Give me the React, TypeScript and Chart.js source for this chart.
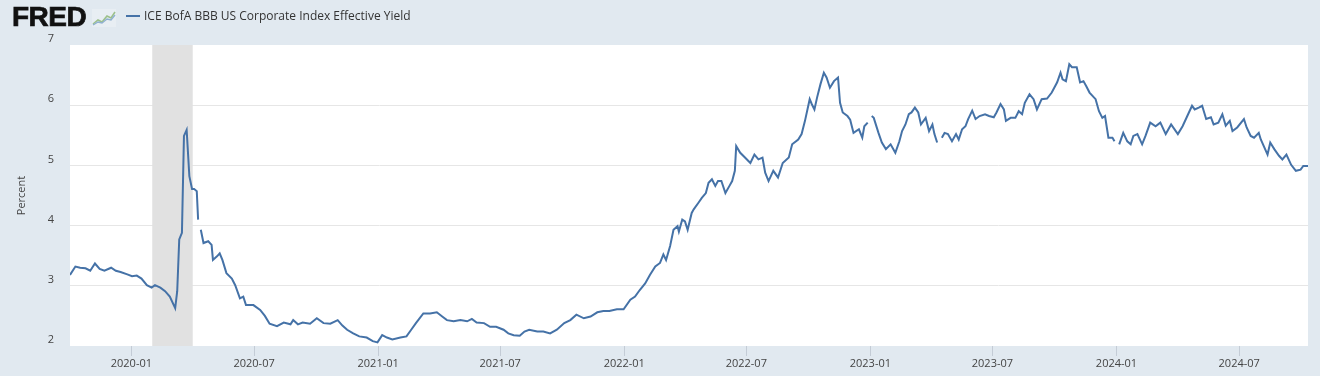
import React, { useEffect, useRef } from "react";
import { Chart, registerables } from "chart.js";

Chart.register(...registerables);

const seriesLabel = "ICE BofA BBB US Corporate Index Effective Yield";
const yAxisTitle = "Percent";

const dates: string[] = [
  "2019-10-02","2019-10-10","2019-10-17","2019-10-25","2019-11-01","2019-11-08","2019-11-15","2019-11-22","2019-12-02","2019-12-09","2019-12-16","2019-12-26",
  "2020-01-02","2020-01-09","2020-01-16","2020-01-24","2020-01-31","2020-02-05","2020-02-13","2020-02-20","2020-02-27","2020-03-06","2020-03-09","2020-03-12",
  "2020-03-16","2020-03-19","2020-03-23","2020-03-27","2020-03-31","2020-04-03","2020-04-07","2020-04-09","2020-04-10","2020-04-13","2020-04-17","2020-04-24",
  "2020-04-29","2020-05-01","2020-05-07","2020-05-11","2020-05-15","2020-05-21","2020-05-29","2020-06-03","2020-06-10","2020-06-15","2020-06-19","2020-06-30",
  "2020-07-10","2020-07-17","2020-07-24","2020-08-04","2020-08-14","2020-08-24","2020-08-28","2020-09-04","2020-09-11","2020-09-22","2020-10-02","2020-10-12",
  "2020-10-22","2020-11-02","2020-11-09","2020-11-16","2020-11-25","2020-12-04","2020-12-15","2020-12-24","2020-12-31",
  "2021-01-07","2021-01-14","2021-01-22","2021-02-03","2021-02-12","2021-02-19","2021-02-26","2021-03-09","2021-03-19","2021-03-29","2021-04-06","2021-04-13",
  "2021-04-23","2021-05-03","2021-05-13","2021-05-20","2021-05-27","2021-06-07","2021-06-16","2021-06-25","2021-07-06","2021-07-13","2021-07-21","2021-07-30",
  "2021-08-06","2021-08-13","2021-08-25","2021-09-03","2021-09-13","2021-09-23","2021-10-04","2021-10-13","2021-10-22","2021-11-02","2021-11-12","2021-11-22",
  "2021-12-01","2021-12-10","2021-12-21","2021-12-31",
  "2022-01-10","2022-01-17","2022-01-24","2022-02-01","2022-02-08","2022-02-16","2022-02-23","2022-02-28","2022-03-04","2022-03-10","2022-03-15","2022-03-21",
  "2022-03-23","2022-03-28","2022-04-01","2022-04-05","2022-04-11","2022-04-14","2022-04-21","2022-04-26","2022-05-02","2022-05-06","2022-05-11","2022-05-16",
  "2022-05-20","2022-05-25","2022-05-31","2022-06-06","2022-06-10","2022-06-14","2022-06-16","2022-06-22","2022-06-29","2022-07-07","2022-07-13","2022-07-19",
  "2022-07-25","2022-07-29","2022-08-03","2022-08-10","2022-08-17","2022-08-24","2022-09-02","2022-09-07","2022-09-16","2022-09-21","2022-09-26","2022-10-03",
  "2022-10-06","2022-10-10","2022-10-14","2022-10-19","2022-10-24","2022-10-28","2022-11-02","2022-11-08","2022-11-14","2022-11-17","2022-11-21","2022-11-28",
  "2022-12-02","2022-12-07","2022-12-15","2022-12-20","2022-12-23","2022-12-28","2022-12-30",
  "2023-01-03","2023-01-06","2023-01-13","2023-01-18","2023-01-24","2023-01-31","2023-02-07","2023-02-13","2023-02-17","2023-02-22","2023-02-27","2023-03-03",
  "2023-03-08","2023-03-13","2023-03-17","2023-03-24","2023-03-29","2023-04-03","2023-04-06","2023-04-10","2023-04-12","2023-04-17","2023-04-21","2023-04-26",
  "2023-05-02","2023-05-08","2023-05-12","2023-05-17","2023-05-22","2023-05-26","2023-06-01","2023-06-06","2023-06-12","2023-06-20","2023-06-26","2023-07-03",
  "2023-07-07","2023-07-13","2023-07-18","2023-07-21","2023-07-28","2023-08-04","2023-08-09","2023-08-14","2023-08-18","2023-08-25","2023-08-31","2023-09-05",
  "2023-09-12","2023-09-20","2023-09-27","2023-10-05","2023-10-10","2023-10-13","2023-10-18","2023-10-23","2023-10-27","2023-11-03","2023-11-08","2023-11-13",
  "2023-11-17","2023-11-22","2023-12-01","2023-12-06","2023-12-11","2023-12-15","2023-12-20","2023-12-26","2023-12-29",
  "2024-01-02","2024-01-05","2024-01-11","2024-01-17","2024-01-22","2024-01-26","2024-02-01","2024-02-08","2024-02-13","2024-02-20","2024-02-28","2024-03-06",
  "2024-03-14","2024-03-22","2024-04-01","2024-04-08","2024-04-15","2024-04-22","2024-04-26","2024-05-02","2024-05-07","2024-05-13","2024-05-20","2024-05-24",
  "2024-05-31","2024-06-06","2024-06-11","2024-06-17","2024-06-21","2024-06-28","2024-07-08","2024-07-12","2024-07-18","2024-07-23","2024-07-30","2024-08-02",
  "2024-08-12","2024-08-16","2024-08-22","2024-08-29","2024-09-03","2024-09-09","2024-09-16","2024-09-23","2024-09-30","2024-10-04","2024-10-11",
];

const yields: (number | null)[] = [
  3.18,3.32,3.30,3.29,3.25,3.37,3.28,3.25,3.30,3.25,3.23,3.19,
  3.16,3.17,3.12,3.01,2.97,3.01,2.97,2.91,2.82,2.63,2.91,3.77,
  3.88,5.49,5.59,4.82,4.61,4.61,4.57,4.10,null,3.93,3.71,3.74,
  3.68,3.43,3.49,3.54,3.43,3.21,3.12,3.01,2.79,2.82,2.68,2.68,
  2.60,2.50,2.37,2.33,2.39,2.36,2.43,2.36,2.39,2.37,2.46,2.38,
  2.37,2.43,2.34,2.27,2.21,2.16,2.14,2.08,2.06,
  2.18,2.14,2.11,2.14,2.16,2.27,2.38,2.54,2.54,2.56,2.49,2.43,
  2.41,2.43,2.41,2.45,2.39,2.38,2.32,2.32,2.27,2.21,2.18,2.17,
  2.24,2.27,2.24,2.24,2.21,2.27,2.38,2.43,2.52,2.46,2.49,2.56,
  2.58,2.58,2.61,2.61,
  2.77,2.82,2.93,3.04,3.18,3.32,3.38,3.52,3.43,3.66,3.93,3.99,
  3.90,4.10,4.07,3.93,4.21,4.27,4.38,4.46,4.54,4.71,4.77,4.66,
  4.74,4.74,4.54,4.66,4.74,4.91,5.32,5.21,5.13,5.04,5.18,5.10,
  5.13,4.88,4.74,4.91,4.80,5.04,5.13,5.35,5.43,5.52,5.74,6.10,
  6.02,5.93,6.13,6.35,6.54,6.46,6.29,6.40,6.46,6.04,5.88,5.82,
  5.76,5.54,5.60,5.46,5.65,5.71,null,
  5.82,5.79,5.54,5.38,5.27,5.35,5.21,5.40,5.57,5.68,5.85,5.88,
  5.96,5.88,5.68,5.79,5.57,5.68,5.52,5.38,null,5.46,5.54,5.52,
  5.40,5.52,5.43,5.60,5.65,5.77,5.91,5.77,5.82,5.85,5.82,5.80,
  5.88,6.02,5.93,5.74,5.79,5.79,5.90,5.85,6.04,6.18,6.10,5.93,
  6.10,6.11,6.21,6.38,6.54,6.43,6.40,6.68,6.63,6.63,6.38,6.40,
  6.32,6.21,6.10,5.90,5.79,5.82,5.46,5.46,5.40,
  null,5.35,5.54,5.40,5.35,5.49,5.52,5.35,5.49,5.71,5.65,5.71,
  5.52,5.68,5.52,5.65,5.82,5.99,5.93,5.96,5.99,5.77,5.80,5.68,
  5.71,5.85,5.66,5.74,5.57,5.63,5.77,5.63,5.49,5.46,5.54,5.43,
  5.18,5.38,5.27,5.16,5.10,5.18,5.01,4.91,4.93,4.99,4.99,
];

const xTickLabels = ["2020-01","2020-07","2021-01","2021-07","2022-01","2022-07","2023-01","2023-07","2024-01","2024-07"];
const yTickValues = [2, 3, 4, 5, 6, 7];
const recessionStart = "2020-02-01";
const recessionEnd = "2020-04-01";
const xMin = "2019-10-02";
const xMax = "2024-10-11";

const toMs = (s: string) => {
  const [y, m, d] = s.split("-").map(Number);
  return Date.UTC(y, m - 1, d || 1);
};

export default function App() {
  const canvasRef = useRef<HTMLCanvasElement | null>(null);

  useEffect(() => {
    document.body.style.margin = "0";
    const canvas = canvasRef.current;
    if (!canvas) return;

    const points = dates.map((d, i) => ({ x: toMs(d), y: yields[i] }));

    const areaPlugin = {
      id: "areaPlugin",
      beforeDraw(chart: any) {
        const { ctx, chartArea } = chart;
        ctx.save();
        ctx.fillStyle = "#ffffff";
        ctx.fillRect(chartArea.left, chartArea.top, chartArea.right - chartArea.left, chartArea.bottom - chartArea.top);
        ctx.restore();
      },
      beforeDatasetsDraw(chart: any) {
        const { ctx, chartArea, scales } = chart;
        const x0 = scales.x.getPixelForValue(toMs(recessionStart));
        const x1 = scales.x.getPixelForValue(toMs(recessionEnd));
        ctx.save();
        ctx.fillStyle = "#e1e1e1";
        ctx.fillRect(x0, chartArea.top, x1 - x0, chartArea.bottom - chartArea.top);
        ctx.restore();
      },
    };

    const chart = new Chart(canvas, {
      type: "line",
      data: {
        datasets: [
          {
            label: seriesLabel,
            data: points as any,
            borderColor: "#4572a7",
            borderWidth: 2,
            pointRadius: 0,
            tension: 0,
            spanGaps: false,
          },
        ],
      },
      options: {
        responsive: false,
        animation: false,
        devicePixelRatio: 1,
        layout: { padding: { top: 45, right: 12, left: 0, bottom: 0 } },
        plugins: { legend: { display: false }, tooltip: { enabled: false } },
        scales: {
          x: {
            type: "linear",
            min: toMs(xMin),
            max: toMs(xMax),
            afterBuildTicks: (scale: any) => {
              scale.ticks = xTickLabels.map((l) => ({ value: toMs(l + "-01") }));
            },
            afterFit: (scale: any) => {
              scale.height = 30;
            },
            grid: {
              drawOnChartArea: false,
              drawTicks: true,
              tickLength: 10,
              color: "#c4ccd6",
            },
            border: { display: false },
            ticks: {
              autoSkip: false,
              maxRotation: 0,
              padding: 1,
              color: "#444",
              font: { family: "'Open Sans', sans-serif", size: 11 },
              callback: (value: any) => {
                const d = new Date(Number(value));
                const m = d.getUTCMonth() + 1;
                return `${d.getUTCFullYear()}-${m < 10 ? "0" + m : m}`;
              },
            },
          },
          y: {
            min: yTickValues[0],
            max: yTickValues[yTickValues.length - 1],
            afterBuildTicks: (scale: any) => {
              scale.ticks = yTickValues.map((v) => ({ value: v }));
            },
            afterFit: (scale: any) => {
              scale.width = 70;
            },
            grid: {
              drawTicks: false,
              color: (ctx: any) =>
                ctx.tick && (ctx.tick.value === 2 || ctx.tick.value === 7) ? "rgba(0,0,0,0)" : "#e6e6e6",
              lineWidth: 1,
            },
            border: { display: false },
            ticks: {
              padding: 16,
              labelOffset: -6,
              color: "#444",
              font: { family: "'Open Sans', sans-serif", size: 11 },
            },
            title: {
              display: true,
              text: yAxisTitle,
              color: "#444",
              padding: { top: 15, bottom: 0 },
              font: { family: "'Open Sans', sans-serif", size: 11 },
            },
          },
        },
      },
      plugins: [areaPlugin],
    });

    return () => chart.destroy();
  }, []);

  return (
    <div style={{ position: "relative", width: 1320, height: 376, background: "#e1e9f0", overflow: "hidden" }}>
      <canvas ref={canvasRef} width={1320} height={376} style={{ position: "absolute", left: 0, top: 0 }} />
      <div
        style={{
          position: "absolute",
          left: 12,
          top: 0,
          fontFamily: "'Liberation Sans', Arial, sans-serif",
          fontWeight: 700,
          fontSize: 28,
          letterSpacing: -0.5,
          color: "#111",
          lineHeight: "34px",
          WebkitTextStroke: "0.7px #111",
        }}
      >
        FRED
      </div>
      <svg width="24" height="18" viewBox="0 0 24 18" style={{ position: "absolute", left: 92, top: 9 }}>
        <rect x="0" y="0" width="24" height="18" fill="#e8eef3" />
        <polyline points="1,15 6,11 10,13 15,7 19,9 23,3" fill="none" stroke="#9cc08a" strokeWidth="1.6" />
        <polyline points="1,16 6,13 10,14 15,10 19,11 23,6" fill="none" stroke="#8fb0d0" strokeWidth="1.4" />
      </svg>
      <div style={{ position: "absolute", left: 126, top: 15, width: 14, height: 2, background: "#4572a7" }} />
      <div
        style={{
          position: "absolute",
          left: 144,
          top: 7,
          fontFamily: "'Open Sans', sans-serif",
          fontSize: 12,
          color: "#333",
          lineHeight: "17px",
          whiteSpace: "nowrap",
        }}
      >
        {seriesLabel}
      </div>
    </div>
  );
}
